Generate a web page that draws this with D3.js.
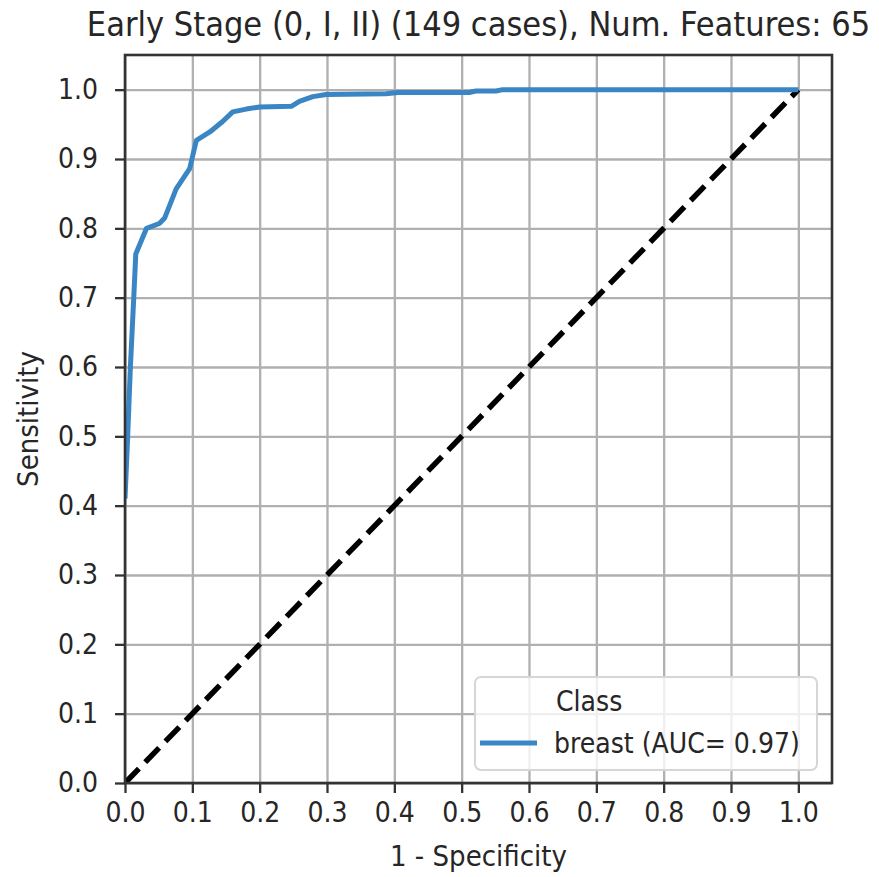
<!DOCTYPE html>
<html>
<head>
<meta charset="utf-8">
<script src="https://cdn.jsdelivr.net/npm/d3@7"></script>
<style>
  body { margin: 0; background: #fff; }
  text { font-family: "DejaVu Sans Condensed", "DejaVu Sans", sans-serif; fill: #262626; }
</style>
</head>
<body>
<svg id="chart" width="879" height="877"></svg>
<script>
// ROC curve (1 - specificity, sensitivity)
const fpr = [0, 0.004, 0.008, 0.013, 0.016, 0.032, 0.051, 0.059, 0.076, 0.096, 0.106,
  0.126, 0.145, 0.160, 0.180, 0.200, 0.247, 0.259, 0.279, 0.299, 0.388, 0.405,
  0.511, 0.521, 0.551, 0.561, 1.0];
const tpr = [0.41, 0.50, 0.60, 0.70, 0.763, 0.800, 0.807, 0.815, 0.857, 0.886, 0.927,
  0.939, 0.954, 0.968, 0.972, 0.975, 0.976, 0.983, 0.990, 0.993, 0.994, 0.996,
  0.996, 0.998, 0.998, 1.0, 1.0];
// chance line
const chanceX = [0, 1];
const chanceY = [0, 1];
const tickValues = [0, 0.1, 0.2, 0.3, 0.4, 0.5, 0.6, 0.7, 0.8, 0.9, 1.0];
const title = 'Early Stage (0, I, II) (149 cases), Num. Features: 65';
const xLabel = '1 - Specificity';
const yLabel = 'Sensitivity';
const legendTitle = 'Class';
const seriesName = 'breast (AUC= 0.97)';

const svg = d3.select('#chart');
const plotLeft = 125, plotRight = 832, plotTop = 55, plotBottom = 783;

const x = d3.scaleLinear().domain([0, 1.05]).range([plotLeft, plotRight]);
const y = d3.scaleLinear().domain([0, 1.05]).range([plotBottom, plotTop]);

const fmt = d3.format('.1f');

// grid
svg.append('g')
  .attr('transform', `translate(0,${plotBottom})`)
  .call(d3.axisBottom(x).tickValues(tickValues).tickSize(-(plotBottom - plotTop)).tickFormat(''))
  .call(g => g.select('.domain').remove())
  .call(g => g.selectAll('line').attr('stroke', '#b0b0b0').attr('stroke-width', 2.3));
svg.append('g')
  .attr('transform', `translate(${plotLeft},0)`)
  .call(d3.axisLeft(y).tickValues(tickValues).tickSize(-(plotRight - plotLeft)).tickFormat(''))
  .call(g => g.select('.domain').remove())
  .call(g => g.selectAll('line').attr('stroke', '#b0b0b0').attr('stroke-width', 2.3));

const plot = svg.append('g');
svg.append('clipPath').attr('id', 'clip')
  .append('rect').attr('x', plotLeft).attr('y', plotTop)
  .attr('width', plotRight - plotLeft).attr('height', plotBottom - plotTop);

// chance diagonal
plot.append('path')
  .datum(d3.range(chanceX.length))
  .attr('clip-path', 'url(#clip)')
  .attr('fill', 'none')
  .attr('stroke', '#000')
  .attr('stroke-width', 5.5)
  .attr('stroke-dasharray', '20,9')
  .attr('d', d3.line().x(i => x(chanceX[i])).y(i => y(chanceY[i])));

// ROC curve
plot.append('path')
  .datum(d3.range(fpr.length))
  .attr('clip-path', 'url(#clip)')
  .attr('fill', 'none')
  .attr('stroke', '#3a86c4')
  .attr('stroke-width', 5)
  .attr('stroke-linejoin', 'round')
  .attr('d', d3.line().x(i => x(fpr[i])).y(i => y(tpr[i])));

// axes
const xAxis = svg.append('g')
  .attr('transform', `translate(0,${plotBottom})`)
  .call(d3.axisBottom(x).tickValues(tickValues).tickFormat(fmt).tickSize(10).tickPadding(9));
const yAxis = svg.append('g')
  .attr('transform', `translate(${plotLeft},0)`)
  .call(d3.axisLeft(y).tickValues(tickValues).tickFormat(fmt).tickSize(10).tickPadding(17));
[xAxis, yAxis].forEach(g => {
  g.select('.domain').remove();
  g.selectAll('line').attr('stroke', '#333').attr('stroke-width', 2.3);
  g.selectAll('text').style('font-size', '28px').attr('fill', '#262626');
});

// spines
svg.append('rect')
  .attr('x', plotLeft).attr('y', plotTop)
  .attr('width', plotRight - plotLeft).attr('height', plotBottom - plotTop)
  .attr('fill', 'none').attr('stroke', '#333').attr('stroke-width', 2.6);

// title and labels
svg.append('text')
  .attr('x', (plotLeft + plotRight) / 2).attr('y', 36)
  .attr('text-anchor', 'middle').style('font-size', '34px')
  .text(title);
svg.append('text')
  .attr('x', (plotLeft + plotRight) / 2).attr('y', 866)
  .attr('text-anchor', 'middle').style('font-size', '29px')
  .text(xLabel);
svg.append('text')
  .attr('transform', `translate(38,${(plotTop + plotBottom) / 2}) rotate(-90)`)
  .attr('text-anchor', 'middle').style('font-size', '29px')
  .text(yLabel);

// legend
const legend = svg.append('g');
legend.append('rect')
  .attr('x', 475).attr('y', 677).attr('width', 342).attr('height', 93)
  .attr('rx', 6).attr('fill', '#fff').attr('fill-opacity', 0.8)
  .attr('stroke', '#d6d6d6').attr('stroke-width', 2);
legend.append('text')
  .attr('x', 556).attr('y', 711).style('font-size', '28px')
  .text(legendTitle);
legend.append('line')
  .attr('x1', 480).attr('x2', 537).attr('y1', 743).attr('y2', 743)
  .attr('stroke', '#3a86c4').attr('stroke-width', 5);
legend.append('text')
  .attr('x', 554).attr('y', 753).style('font-size', '28px')
  .text(seriesName);
</script>
</body>
</html>
